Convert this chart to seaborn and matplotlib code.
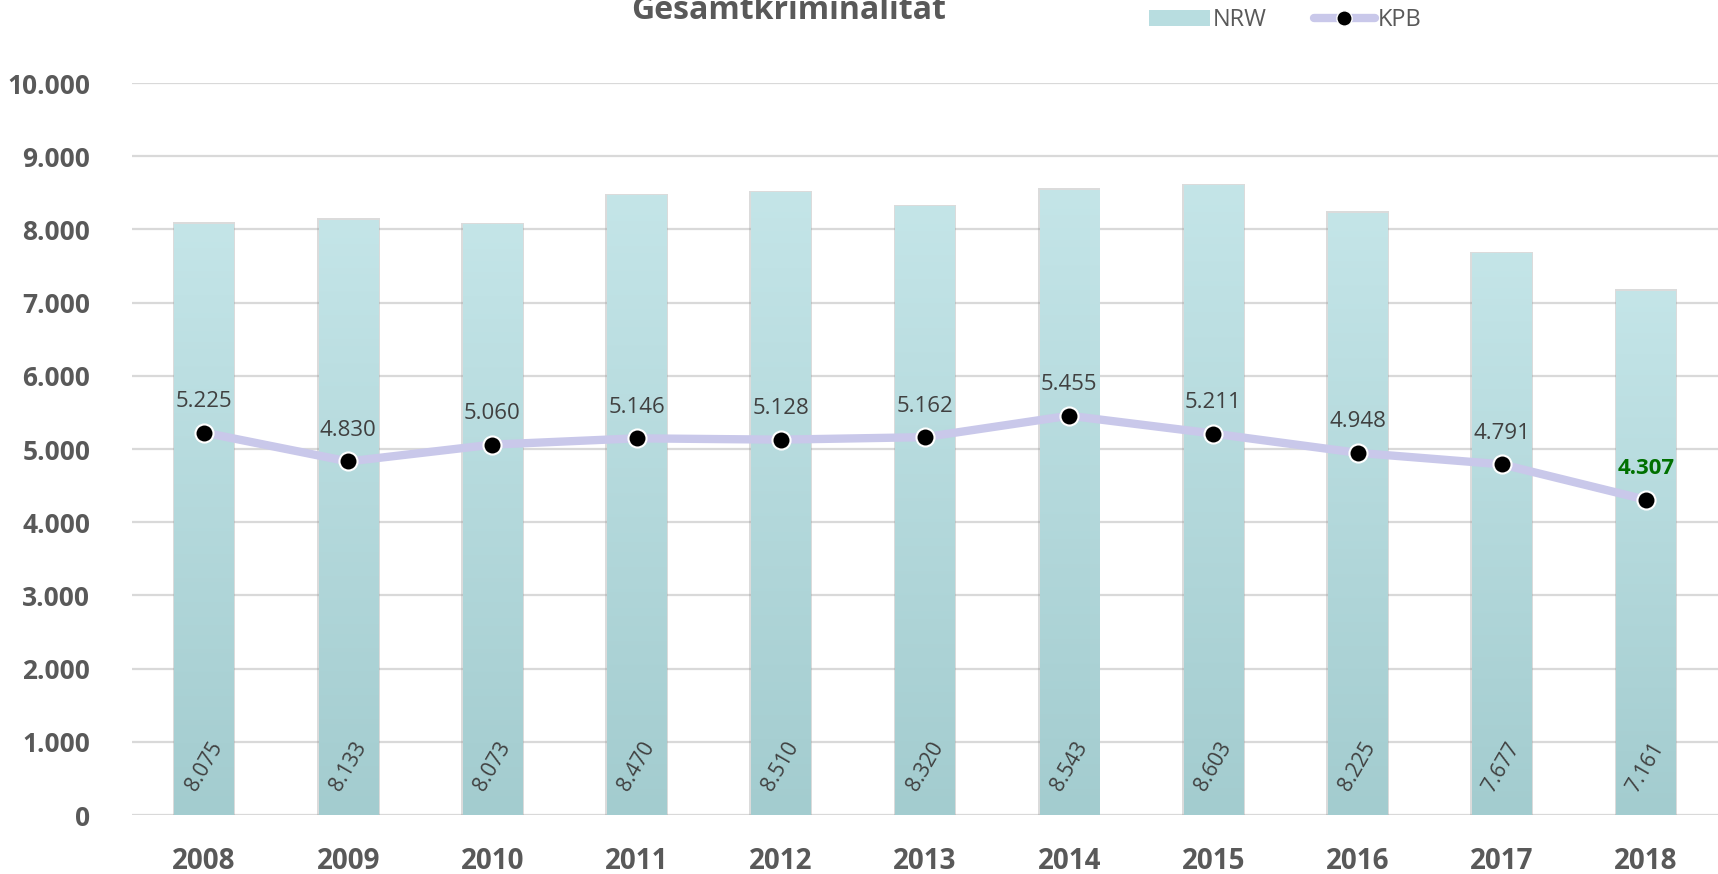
import numpy as np
import pandas as pd
import matplotlib.pyplot as plt
import seaborn as sns
from matplotlib.lines import Line2D
from matplotlib.patches import Patch
from matplotlib.colors import LinearSegmentedColormap

years = ["2008", "2009", "2010", "2011", "2012", "2013", "2014", "2015", "2016", "2017", "2018"]
nrw = [8075, 8133, 8073, 8470, 8510, 8320, 8543, 8603, 8225, 7677, 7161]
kpb = [5225, 4830, 5060, 5146, 5128, 5162, 5455, 5211, 4948, 4791, 4307]


def de_fmt(v):
    return f"{v:,.0f}".replace(",", ".")


sns.set_theme(style="white")
plt.rcParams['font.family'] = ['Open Sans', 'DejaVu Sans']

df = pd.DataFrame({"Jahr": years, "NRW": nrw, "KPB": kpb})

fig = plt.figure(figsize=(17.18, 8.74), dpi=100)
ax = fig.add_axes([0.0768, 0.0675, 0.9232, 0.8375])

sns.barplot(data=df, x="Jahr", y="NRW", color="#B8DDE0", width=0.41,
            saturation=1, ax=ax, zorder=2, edgecolor="none")

# Verlauf + leichter Schatten je Balken
grad = LinearSegmentedColormap.from_list("g", ["#A3CCCF", "#C4E5E8"])
for p in ax.patches:
    x0, y0 = p.get_x(), p.get_y()
    w, h = p.get_width(), p.get_height()
    sh = plt.Rectangle((x0 - 0.012, y0), w + 0.024, h + 20, color="#9a9a9a",
                       alpha=0.35, zorder=1.5, lw=0)
    ax.add_patch(sh)
    im = ax.imshow(np.linspace(0, 1, 256).reshape(-1, 1), cmap=grad, origin="lower",
                   extent=[x0, x0 + w, y0, y0 + h], aspect="auto", zorder=2.1)
    im.set_clip_path(p)

sns.lineplot(data=df, x="Jahr", y="KPB", ax=ax, color="#C9C8EA", linewidth=6,
             marker="o", markersize=13, markerfacecolor="black",
             markeredgecolor="white", markeredgewidth=1.5, zorder=4, sort=False)

for i, v in enumerate(nrw):
    ax.text(i, 660, de_fmt(v), rotation=60, ha="center", va="center",
            fontsize=15, color="#404040", zorder=5)

for i, v in enumerate(kpb):
    if i == len(kpb) - 1:
        ax.text(i, v + 280, de_fmt(v), ha="center", va="bottom", fontsize=16,
                color="#007000", fontweight="bold", zorder=5)
    else:
        ax.text(i, v + 280, de_fmt(v), ha="center", va="bottom", fontsize=16,
                color="#404040", zorder=5)

ax.set_ylim(0, 10000)
ax.set_xlim(-0.5, len(years) - 0.5)
ax.set_yticks(range(0, 10001, 1000))
ax.set_yticklabels([de_fmt(v) for v in range(0, 10001, 1000)])
ax.yaxis.grid(True, color="#D9D9D9", linewidth=1.6, zorder=0)
ax.set_axisbelow(True)
for s in ax.spines.values():
    s.set_visible(False)
ax.set_xlabel("")
ax.set_ylabel("")
ax.tick_params(axis="y", length=0, pad=30, labelsize=19, labelcolor="#595959")
ax.tick_params(axis="x", length=0, pad=23, labelsize=20, labelcolor="#595959")
for lab in ax.get_xticklabels() + ax.get_yticklabels():
    lab.set_fontweight("bold")

fig.text(0.459, 0.978, "Gesamtkriminalität", ha="center", va="baseline",
         fontsize=23, fontweight="bold", color="#595959")

handles = [Patch(facecolor="#B8DDE0", edgecolor="none"),
           Line2D([0], [0], color="#C9C8EA", lw=6, marker="o", markersize=11,
                  markerfacecolor="black", markeredgecolor="white")]
fig.legend(handles, ["NRW", "KPB"], loc="center", bbox_to_anchor=(0.748, 0.977),
           ncol=2, frameon=False, fontsize=17, handlelength=2.6, handletextpad=0.1,
           columnspacing=2.0, labelcolor="#595959")

fig.savefig("out.png", dpi=100)
